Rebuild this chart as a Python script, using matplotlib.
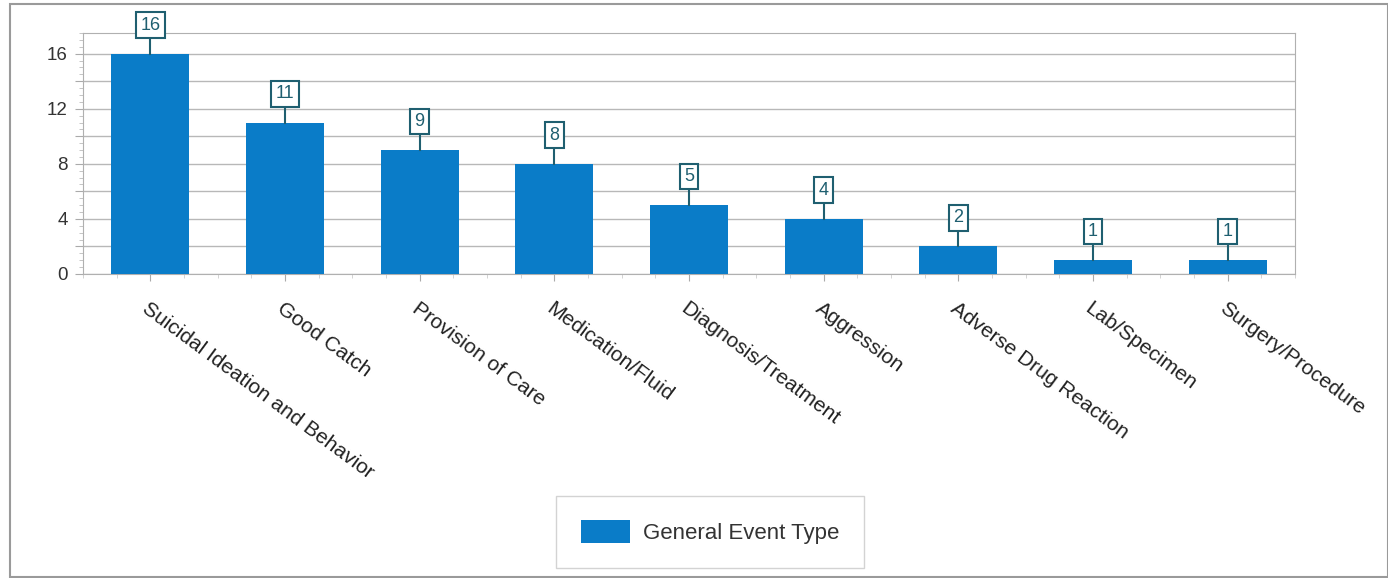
import matplotlib
matplotlib.use("Agg")
import matplotlib.pyplot as plt
import numpy as np
from matplotlib.patches import Rectangle
from matplotlib.ticker import MultipleLocator

plt.rcParams["font.family"] = ["Liberation Sans", "DejaVu Sans"]

categories = [
    "Suicidal Ideation and Behavior",
    "Good Catch",
    "Provision of Care",
    "Medication/Fluid",
    "Diagnosis/Treatment",
    "Aggression",
    "Adverse Drug Reaction",
    "Lab/Specimen",
    "Surgery/Procedure",
]
counts = [16, 11, 9, 8, 5, 4, 2, 1, 1]
series_name = "General Event Type"

bar_color = "#0a7cc8"
label_color = "#1f5f70"

fig = plt.figure(figsize=(13.88, 5.78), dpi=100)
fig.patch.set_facecolor("white")

# outer frame around the whole chart
fig.add_artist(Rectangle((10 / 1388, 1 / 578), 1 - 10 / 1388, 1 - 5 / 578,
                         transform=fig.transFigure, fill=False,
                         edgecolor="#9a9a9a", lw=1.5))

ax = fig.add_axes([83 / 1388, 1 - 274 / 578, (1295 - 83) / 1388, (274 - 33) / 578])
x = np.arange(len(categories))
ax.bar(x, counts, width=0.58, color=bar_color, zorder=3)

# y axis: labels every 4, gridlines every 2, small ticks every 0.5
ax.set_yticks(np.arange(0, 18, 2))
ax.set_yticklabels([str(v) if v % 4 == 0 else "" for v in range(0, 18, 2)])
ax.yaxis.set_minor_locator(MultipleLocator(0.5))
ax.grid(axis="y", which="major", color="#b8b8b8", lw=1, zorder=0)
ax.tick_params(axis="y", which="major", length=6, color="#aaaaaa",
               labelsize=13.5, labelcolor="#333333", pad=5)
ax.tick_params(axis="y", which="minor", length=3, color="#bbbbbb")

ax.set_xticks(x)
ax.set_xticklabels(categories, rotation=-36.5, ha="left", rotation_mode="anchor",
                   fontsize=15, color="#222222")
ax.tick_params(axis="x", length=5, color="#aaaaaa", pad=13)
ax.set_xticks(np.arange(-0.5, len(categories), 0.25), minor=True)
ax.tick_params(axis="x", which="minor", length=3, color="#cccccc")

ax.set_xlim(-0.5, len(categories) - 0.5)
ax.set_ylim(0, 17.5)

for side in ["top", "right", "left", "bottom"]:
    ax.spines[side].set_color("#b0b0b0")

# value callouts above each bar
stem = 1.16
for xi, v in zip(x, counts):
    ax.plot([xi, xi], [v, v + stem], color=label_color, lw=1.5, zorder=4)
    ax.annotate(str(v), (xi, v + stem), xytext=(0, 3), textcoords="offset points",
                ha="center", va="bottom", fontsize=13, color=label_color,
                bbox=dict(boxstyle="square,pad=0.24", facecolor="white",
                          edgecolor=label_color, lw=1.5),
                annotation_clip=False, zorder=5)

handle = Rectangle((0, 0), 1, 1, facecolor=bar_color)
leg = fig.legend([handle], [series_name], loc="center",
                 bbox_to_anchor=(710 / 1388, 1 - 532 / 578), frameon=True,
                 fancybox=False, edgecolor="#c8c8c8", fontsize=16,
                 handlelength=2.2, handleheight=1.2, borderpad=1.1,
                 handletextpad=0.6, borderaxespad=0)
for t in leg.get_texts():
    t.set_color("#333333")

fig.savefig("out.png", dpi=100, facecolor="white")
